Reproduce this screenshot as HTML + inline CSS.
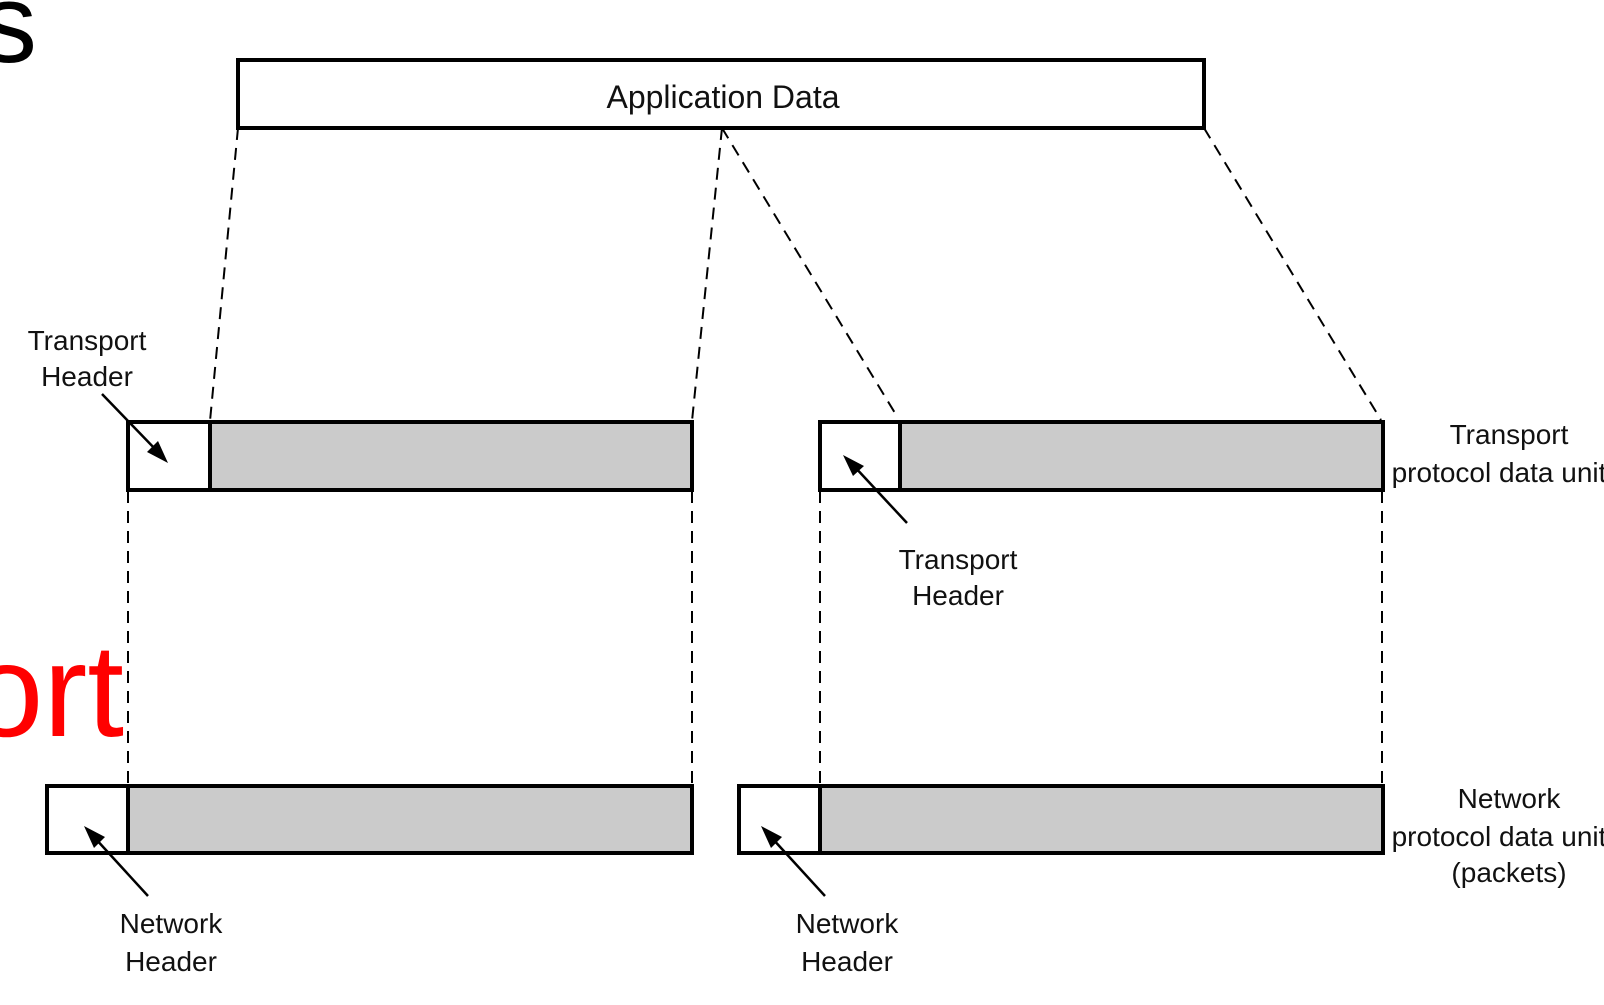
<!DOCTYPE html>
<html><head><meta charset="utf-8"><style>html,body{margin:0;padding:0;background:#fff;overflow:hidden}</style></head>
<body>
<svg width="1604" height="1000" viewBox="0 0 1604 1000" xmlns="http://www.w3.org/2000/svg" font-family="Liberation Sans, sans-serif">
<defs><marker id="a" markerWidth="10" markerHeight="10" refX="9" refY="5" orient="auto" markerUnits="userSpaceOnUse"><path d="M0,0 L20,5 L0,10 z" fill="#000" transform="scale(0.5,1) translate(0,0)"/></marker></defs>
<text x="37" y="62" font-size="112" text-anchor="end" fill="#000">s</text>
<text x="124" y="736" font-size="132" text-anchor="end" fill="#f00">ort</text>
<g stroke="#000" stroke-width="2" stroke-dasharray="12,8" fill="none">
<line x1="238" y1="128" x2="210" y2="421"/>
<line x1="722" y1="128" x2="692" y2="421"/>
<line x1="722" y1="128" x2="898" y2="418"/>
<line x1="1204" y1="128" x2="1381" y2="420"/>
<line x1="128" y1="491" x2="128" y2="785"/>
<line x1="692" y1="491" x2="692" y2="785"/>
<line x1="820" y1="491" x2="820" y2="785"/>
<line x1="1382" y1="491" x2="1382" y2="785"/>
</g>
<g stroke="#000" stroke-width="4">
<rect x="238" y="60" width="966" height="68" fill="#fff"/>
<rect x="128" y="422" width="564" height="68" fill="#cbcbcb"/>
<rect x="128" y="422" width="82" height="68" fill="#fff"/>
<rect x="820" y="422" width="563" height="68" fill="#cbcbcb"/>
<rect x="820" y="422" width="80" height="68" fill="#fff"/>
<rect x="47" y="786" width="645" height="67" fill="#cbcbcb"/>
<rect x="47" y="786" width="81" height="67" fill="#fff"/>
<rect x="739" y="786" width="644" height="67" fill="#cbcbcb"/>
<rect x="739" y="786" width="81" height="67" fill="#fff"/>
</g>
<g stroke="#000" stroke-width="2.5">
<line x1="102" y1="394" x2="158" y2="452"/>
<line x1="907" y1="523" x2="853" y2="465"/>
<line x1="148" y1="896" x2="94" y2="837"/>
<line x1="825" y1="896" x2="771" y2="837"/>
</g>
<g fill="#000">
<polygon points="168,463 147,452 158,441"/>
<polygon points="843,455 864,466 853,476"/>
<polygon points="84,826 105,837 94,848"/>
<polygon points="761,826 782,837 771,848"/>
</g>
<g font-size="28" fill="#111" text-anchor="middle">
<text x="723" y="108" font-size="32">Application Data</text>
<text x="87" y="350">Transport</text><text x="87" y="386">Header</text>
<text x="958" y="569">Transport</text><text x="958" y="605">Header</text>
<text x="171" y="933">Network</text><text x="171" y="971">Header</text>
<text x="847" y="933">Network</text><text x="847" y="971">Header</text>
<text x="1509" y="444">Transport</text><text x="1499" y="482">protocol data unit</text>
<text x="1509" y="808">Network</text><text x="1499" y="846">protocol data unit</text><text x="1509" y="882">(packets)</text>
</g>
</svg>
</body></html>
